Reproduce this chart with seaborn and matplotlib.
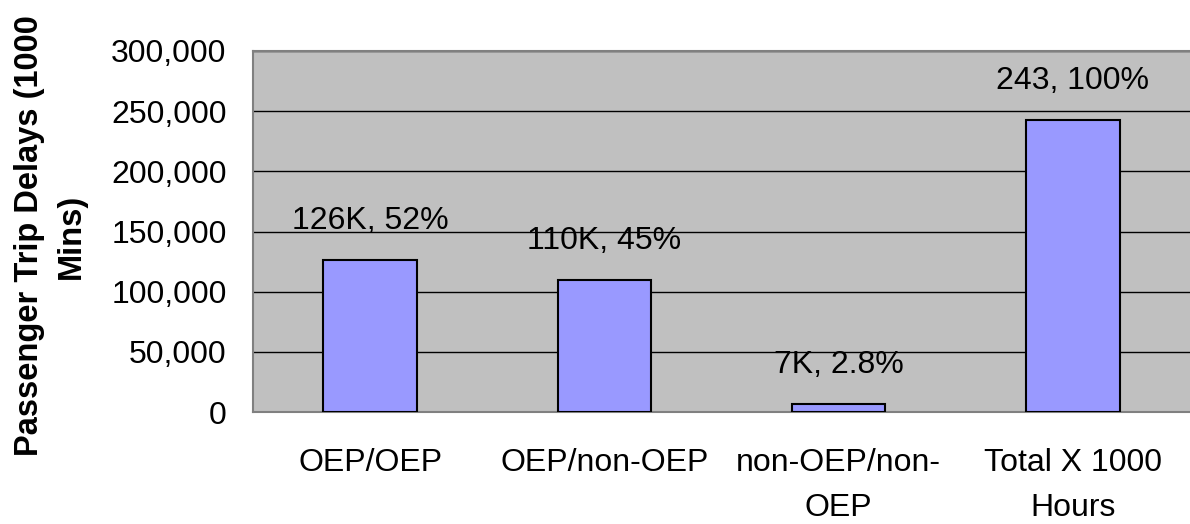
import seaborn as sns
import matplotlib.pyplot as plt
import matplotlib.ticker as mticker
import pandas as pd

# Data
categories = ['OEP/OEP', 'OEP/non-OEP', 'non-OEP/non-\nOEP', 'Total X 1000\nHours']
delays = [126000, 110000, 7000, 243000]
bar_labels = ['126K, 52%', '110K, 45%', '7K, 2.8%', '243, 100%']
y_ticks = [0, 50000, 100000, 150000, 200000, 250000, 300000]

df = pd.DataFrame({'Category': categories, 'Delay': delays})

sns.set_style('white')
plt.rcParams['font.family'] = ['Liberation Sans', 'DejaVu Sans']
plt.rcParams['text.color'] = 'black'
plt.rcParams['xtick.color'] = 'black'
plt.rcParams['ytick.color'] = 'black'

fig = plt.figure(figsize=(11.9, 5.24), dpi=100)
ax = fig.add_axes([253 / 1190, 1 - 412 / 524, 1 - 253 / 1190, (412 - 51) / 524])
ax.set_facecolor('#C0C0C0')

sns.barplot(data=df, x='Category', y='Delay', color='#9999FF', saturation=1,
            edgecolor='black', linewidth=1.5, width=0.40, ax=ax, zorder=3)

ax.set_xlim(-0.5, 3.5)
ax.set_ylim(0, 300000)
ax.set_yticks(y_ticks)
ax.yaxis.set_major_formatter(mticker.FuncFormatter(lambda v, p: f'{int(v):,}'))
ax.grid(axis='y', color='black', linewidth=1, zorder=1)
ax.set_axisbelow(True)

# category labels without tick marks, tick marks at boundaries
ax.set_xticks(range(len(categories)))
ax.set_xticklabels(categories, fontsize=23, linespacing=1.65)
ax.set_xticks([i - 0.5 for i in range(len(categories) + 1)], minor=True)
ax.tick_params(axis='x', which='major', length=0, pad=26)
ax.tick_params(axis='x', which='minor', length=10, color='#808080', width=1, direction='out')
ax.tick_params(axis='y', length=10, color='#808080', width=1, direction='out',
               labelsize=23, pad=9)
ax.set_xlabel('')
ax.set_ylabel('')

for s in ['left', 'bottom', 'top']:
    ax.spines[s].set_visible(True)
    ax.spines[s].set_color('#808080')
    ax.spines[s].set_linewidth(1.5)
ax.spines['right'].set_visible(False)

for i, (v, t) in enumerate(zip(delays, bar_labels)):
    ax.annotate(t, (i, v), xytext=(0, 28), textcoords='offset points',
                ha='center', va='center', fontsize=23, zorder=4)

fig.text(50 / 1190, 1 - 236 / 524, 'Passenger Trip Delays (1000\nMins)', rotation=90,
         ha='center', va='center', fontsize=23.5, fontweight='bold', multialignment='center',
         linespacing=1.45)

plt.savefig('out.png', dpi=100, facecolor='white')
plt.close()
